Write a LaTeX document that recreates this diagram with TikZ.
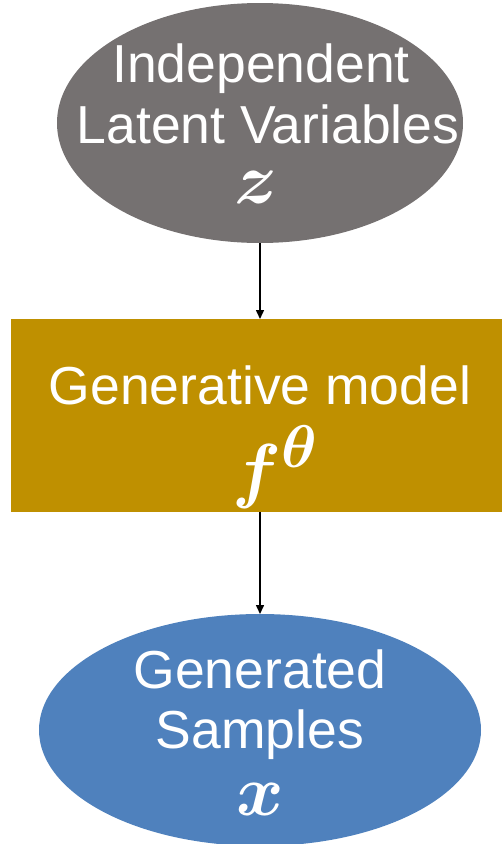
\documentclass[tikz,border=0pt]{standalone}
\usepackage{graphicx}
\usepackage{amsmath}
\usepackage{bm}
\usepackage{fontspec}
\setmainfont{Liberation Sans}
\usetikzlibrary{shapes.geometric,arrows.meta}
\definecolor{latentgray}{RGB}{117,113,113}
\definecolor{modelgold}{RGB}{191,144,0}
\definecolor{sampleblue}{RGB}{79,129,189}
\newcommand{\bigmathtext}[1]{\scalebox{2.9}{\Huge$#1$}}
\tikzset{
  shapebox/.style={inner sep=0pt,outer sep=0pt,draw=none},
  lbl/.style={text=white,inner sep=0pt,anchor=base,font=\fontsize{53.5}{61}\selectfont},
  mathlbl/.style={text=white,inner sep=0pt,anchor=base},
  conn/.style={line width=1.5pt,-{Triangle[length=9pt,width=8pt]}}
}
\begin{document}
\begin{tikzpicture}[x=1pt,y=-1pt]
\useasboundingbox (0,0) rectangle (502,844);
\node[shapebox,ellipse,fill=latentgray,minimum width=406pt,minimum height=240pt] (latent) at (260,123) {};
\node[shapebox,rectangle,fill=modelgold,minimum width=498pt,minimum height=193pt] (model) at (260,415.5) {};
\node[shapebox,ellipse,fill=sampleblue,minimum width=442pt,minimum height=232pt] (samples) at (260,730) {};
\node[lbl] (t1) at (261,82) {Independent};
\node[lbl] (t2) at (268,143) {Latent Variables};
\node[mathlbl] (t3) at (256,203) {\bigmathtext{\bm{z}}};
\node[lbl] (m1) at (260,404) {Generative model};
\node[mathlbl] (m2) at (276,494) {\bigmathtext{\bm{f}^{\bm{\theta}}}};
\node[lbl] (s1) at (260,688) {Generated};
\node[lbl] (s2) at (260,748) {Samples};
\node[mathlbl] (s3) at (260,815) {\bigmathtext{\bm{x}}};
\draw[conn] (latent.south) -- (model.north);
\draw[conn] (model.south) -- (samples.north);
\end{tikzpicture}
\end{document}
